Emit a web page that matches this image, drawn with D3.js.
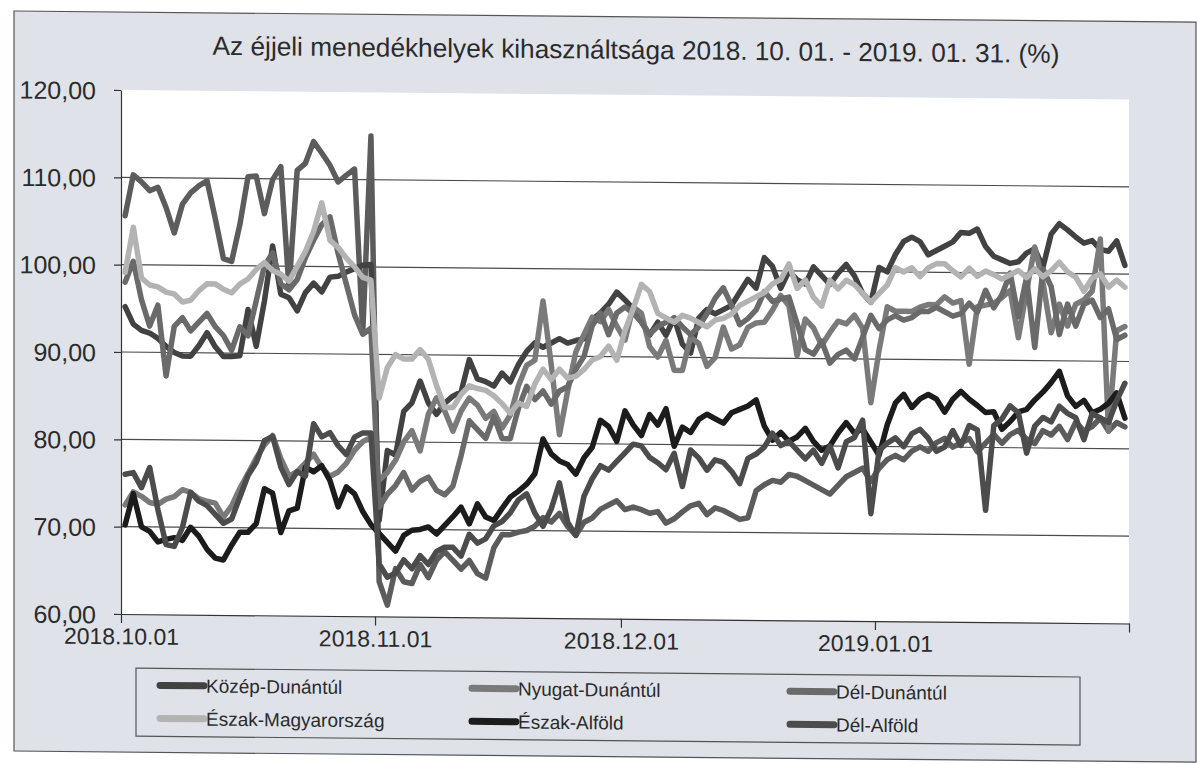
<!DOCTYPE html>
<html><head><meta charset="utf-8">
<script src="https://cdn.jsdelivr.net/npm/d3@7"></script>
<style>body{margin:0;background:#fff}svg{display:block}text{font-family:"Liberation Sans",Arial,sans-serif}</style>
</head><body><svg id="c" width="1203" height="764"></svg>
<script>
const chartTitle = "Az éjjeli menedékhelyek kihasználtsága 2018. 10. 01. - 2019. 01. 31. (%)";
const startDate = new Date(2018, 9, 1), endDate = new Date(2019, 1, 1);
const categories = d3.timeDay.range(startDate, endDate); // 2018.10.01 .. 2019.01.31
const xTickDates = [new Date(2018,9,1), new Date(2018,10,1), new Date(2018,11,1), new Date(2019,0,1), new Date(2019,1,1)];
const xTickLabels = ["2018.10.01","2018.11.01","2018.12.01","2019.01.01",""];
const yTicks = [60,70,80,90,100,110,120];
const yTickLabels = ["60,00","70,00","80,00","90,00","100,00","110,00","120,00"];
const legendNames = ["Közép-Dunántúl","Nyugat-Dunántúl","Dél-Dunántúl","Észak-Magyarország","Észak-Alföld","Dél-Alföld"];

// unlabelled 7th line visible in the picture
const kozepMagyarorszag = [105.6,110.3,109.5,108.5,108.9,106.6,103.7,107.0,108.3,109.1,109.7,105.4,100.8,100.5,104.7,110.2,110.3,106.0,109.9,111.4,97.5,111.0,111.8,114.3,113.0,111.6,109.7,110.5,111.2,92.5,115.0,
64.0,61.3,65.5,64.0,63.8,66.0,64.5,66.5,67.5,66.5,65.5,66.5,65.0,64.5,68.0,69.5,69.5,69.8,70.0,70.5,71.5,71.0,72.0,70.5,69.5,71.0,71.5,72.5,73.0,73.5,
72.5,72.8,72.5,72.1,72.3,71.0,71.5,72.3,73.0,73.3,72.0,72.8,72.5,72.0,71.5,71.7,74.8,75.5,76.0,75.8,76.7,76.5,
76.0,75.5,75.0,74.5,75.5,76.5,77.0,77.5,76.0,77.5,78.5,79.0,78.5,79.5,80.0,79.5,80.5,81.0,80.0,80.5,81.0,79.5,80.5,81.5,80.5,81.5,82.0,81.0,80.5,82.0,81.5,82.5,81.0,83.0,82.0,82.5,83.5,82.0,83.0,82.5];
const kozepDunantul = [95.2,93.2,92.5,92.2,91.6,90.7,90.0,89.6,89.6,90.8,92.3,90.7,89.6,89.6,89.7,95.0,90.8,96.0,102.3,96.8,96.4,94.9,97.0,98.1,97.1,98.8,98.9,99.4,99.8,100.2,100.3,
71.0,79.0,78.5,83.5,84.5,87.0,84.5,83.2,84.5,85.3,85.8,89.5,87.3,87.0,86.5,88.0,87.0,89.0,90.5,91.5,91.0,91.5,92.0,91.5,91.8,92.0,94.2,95.0,96.0,97.4,
96.5,95.5,94.0,92.5,94.0,92.5,94.5,91.5,90.5,94.5,95.5,95.0,95.5,96.0,97.5,99.0,98.0,101.5,100.5,98.0,100.0,99.0,
98.5,100.5,99.5,98.5,99.8,100.8,99.5,97.5,96.5,100.5,100.0,102.0,103.5,104.0,103.5,102.0,102.5,103.0,103.5,104.6,104.5,105.0,103.0,101.9,101.5,101.1,101.3,102.3,102.8,100.7,104.5,105.7,105.0,104.2,103.5,103.8,102.8,102.6,103.8,101.0];
const nyugatDunantul = [72.5,74.0,73.5,72.8,72.6,73.2,73.5,74.3,74.0,73.3,73.0,72.8,71.2,72.5,74.5,76.2,78.0,79.5,80.6,78.0,76.0,76.5,77.5,78.5,77.0,76.0,76.5,77.5,79.0,80.0,80.5,
75.6,76.5,77.9,80.0,81.3,79.0,83.2,85.1,83.6,81.3,83.6,85.1,84.3,82.8,83.6,81.7,83.2,86.6,88.9,89.5,96.3,89.0,81.0,86.0,90.5,92.5,94.5,94.0,95.4,93.5,
91.9,95.7,95.0,91.2,90.0,91.9,88.5,88.5,92.3,91.6,89.0,90.0,93.5,91.0,91.5,93.5,94.0,94.1,95.5,97.2,96.0,90.3,
94.5,93.5,91.5,93.0,94.3,94.0,95.0,93.5,85.0,91.0,96.0,95.5,95.5,95.5,96.0,96.3,96.3,97.2,96.5,96.8,89.5,96.1,96.3,96.5,97.2,98.0,92.6,98.0,103.0,99.0,93.2,96.5,94.0,96.5,97.0,98.0,104.0,82.0,93.5,94.0];
const delDunantul = [98.0,100.4,96.0,93.0,95.4,87.3,93.0,94.0,92.5,93.5,94.5,93.0,92.0,90.3,93.0,92.0,96.0,100.0,101.5,98.0,97.3,98.5,101.0,103.0,104.8,105.7,101.5,98.0,94.5,92.3,93.0,
72.5,74.0,75.0,76.5,74.5,75.5,76.0,74.5,74.0,75.0,78.5,82.5,81.5,80.5,83.0,80.5,80.5,84.0,86.5,85.0,86.0,84.5,86.0,86.5,88.5,90.0,93.5,95.0,92.5,95.0,
95.7,95.0,94.0,92.6,93.5,94.0,94.5,93.5,92.6,93.5,95.0,96.8,98.0,96.0,93.8,94.5,95.5,97.6,96.5,96.8,97.0,94.0,
91.0,90.5,92.0,89.5,90.5,91.0,90.0,92.5,95.0,93.5,94.5,95.0,94.5,94.8,95.5,95.5,96.0,95.5,95.0,95.3,96.5,95.5,98.0,96.0,97.5,100.0,95.0,99.5,91.5,100.5,98.5,93.0,96.5,94.0,96.5,97.0,95.0,96.0,92.5,93.0];
const eszakMagyarorszag = [99.1,104.3,98.5,97.7,97.5,96.9,96.7,95.8,96.0,97.1,97.9,97.9,97.3,96.9,97.9,98.5,99.6,100.4,99.5,99.1,98.3,100.0,101.7,104.0,107.3,103.0,102.2,101.0,100.0,98.8,98.5,
85.0,88.5,90.0,89.5,89.5,90.6,89.5,86.5,84.0,84.0,85.5,86.5,86.2,86.0,85.4,84.5,83.4,84.6,84.2,86.8,88.5,87.3,88.5,87.5,87.7,88.5,89.6,90.0,91.2,89.6,
93.0,95.5,98.3,97.5,95.0,94.5,94.0,94.8,94.5,94.0,93.5,94.3,94.5,95.0,96.0,96.5,97.0,97.5,98.5,99.0,100.8,98.0,
99.0,97.0,96.0,99.0,98.0,99.0,98.5,97.5,96.5,97.5,98.5,100.5,100.0,100.5,99.5,100.5,101.0,101.0,100.2,99.5,100.5,99.6,100.2,99.8,99.3,99.8,100.3,99.5,100.5,99.6,100.3,101.3,100.2,99.6,98.0,99.5,100.0,98.5,99.3,98.5];
const eszakAlfold = [70.2,73.8,70.0,69.5,68.3,68.6,68.8,68.5,70.0,69.0,67.5,66.5,66.3,68.0,69.5,69.5,70.5,74.5,74.0,69.5,72.0,72.3,77.0,76.5,77.2,75.5,72.5,74.8,74.0,72.0,70.5,
69.5,68.5,67.5,69.3,69.9,70.0,70.3,69.5,70.5,71.5,72.6,70.7,73.0,71.5,71.1,72.5,73.8,74.5,75.3,76.5,80.5,78.8,78.0,77.6,76.5,78.4,79.6,82.7,82.0,80.3,
83.8,82.2,81.0,83.4,82.2,84.1,79.8,82.0,81.4,82.9,83.5,83.0,82.5,83.7,84.1,84.5,85.2,82.2,80.6,81.5,80.5,81.0,
82.0,80.5,79.5,80.0,81.5,82.7,81.5,82.0,80.5,79.0,82.5,85.0,86.0,84.5,85.5,86.0,85.5,84.0,85.5,86.4,85.5,84.8,84.0,84.1,82.1,83.0,84.1,84.4,85.5,86.4,87.5,88.8,86.0,84.8,85.5,84.1,84.5,85.2,86.4,83.5];
const delAlfold = [76.0,76.2,74.5,76.8,72.0,68.0,67.8,70.0,74.0,73.0,72.5,71.5,70.5,71.0,73.5,76.0,77.5,80.0,80.5,77.0,75.0,76.5,76.0,82.0,80.5,81.0,79.5,78.5,80.5,81.0,81.0,
66.0,64.5,65.0,66.5,65.5,67.0,66.0,67.5,68.0,68.0,67.0,69.5,68.5,69.0,70.5,71.0,72.0,73.5,74.2,72.0,70.5,72.5,75.5,71.0,69.5,74.0,76.0,77.5,77.0,78.0,
79.0,80.0,79.8,78.5,77.9,77.1,79.0,75.2,79.4,78.5,77.1,78.3,78.0,77.0,75.6,78.5,79.0,79.8,81.4,80.0,80.5,79.5,
78.5,79.5,78.0,80.0,77.5,80.5,81.0,83.0,72.3,79.5,80.4,81.0,80.0,81.5,82.0,81.0,79.5,80.0,81.9,80.2,82.5,82.0,72.8,82.5,83.3,84.8,84.0,79.4,82.5,83.5,83.0,84.8,84.0,83.5,81.0,84.0,83.5,83.0,85.5,87.5];

const seriesList = [
  {name:"Közép-Magyarország", values:kozepMagyarorszag, color:"#5c5c5c", legend:false},
  {name:legendNames[0], values:kozepDunantul, color:"#424242", legend:true},
  {name:legendNames[1], values:nyugatDunantul, color:"#7a7a7a", legend:true},
  {name:legendNames[2], values:delDunantul, color:"#6a6a6a", legend:true},
  {name:legendNames[3], values:eszakMagyarorszag, color:"#b3b3b3", legend:true},
  {name:legendNames[4], values:eszakAlfold, color:"#1c1c1c", legend:true},
  {name:legendNames[5], values:delAlfold, color:"#4c4c4c", legend:true}
];

const svg = d3.select("#c");
const k = 0.0094; // scan skew
const root = svg.append("g").attr("transform", `matrix(1,${k},0,1,0,${-k*120})`);

root.append("rect").attr("x",14).attr("y",12).attr("width",1182).attr("height",740)
  .attr("fill","#dfe2e8").attr("stroke","#555").attr("stroke-width",1.2);

const L = 121, R = 1129, T = 90, B = 614;
root.append("rect").attr("x",L).attr("y",T).attr("width",R-L).attr("height",B-T).attr("fill","#fff");

const x = d3.scaleTime().domain([startDate, endDate]).range([L, R]);
const y = d3.scaleLinear().domain([60,120]).range([B, T]);

// gridlines
root.append("g").selectAll("line").data(yTicks.filter(v => v > 60 && v < 120)).join("line")
  .attr("x1", L).attr("x2", R).attr("y1", d => y(d)).attr("y2", d => y(d))
  .attr("stroke", "#4a4a4a").attr("stroke-width", 1.2);

// y axis
const yAxis = root.append("g").attr("transform", `translate(${L},0)`)
  .call(d3.axisLeft(y).tickValues(yTicks).tickFormat((d,i) => yTickLabels[i]).tickSize(7).tickSizeOuter(0).tickPadding(18));
yAxis.select(".domain").attr("stroke","#333").attr("stroke-width",1.2);
yAxis.selectAll(".tick line").attr("stroke","#333").attr("stroke-width",1.2);
yAxis.selectAll(".tick text").attr("font-size","25px").attr("fill","#2b2b2b").attr("font-family","Liberation Sans, Arial, sans-serif").attr("dy","0.36em");

// x axis
const xAxis = root.append("g").attr("transform", `translate(0,${B})`)
  .call(d3.axisBottom(x).tickValues(xTickDates).tickFormat((d,i) => xTickLabels[i]).tickSize(9).tickSizeOuter(0).tickPadding(5));
xAxis.select(".domain").attr("stroke","#333").attr("stroke-width",1.2);
xAxis.selectAll(".tick line").attr("stroke","#333").attr("stroke-width",1.2);
xAxis.selectAll(".tick text").attr("font-size","23px").attr("fill","#2b2b2b").attr("font-family","Liberation Sans, Arial, sans-serif");

// lines
const line = d3.line()
  .x((v,i) => x(d3.timeHour.offset(categories[i], 12)))
  .y(v => y(v));
root.append("g").selectAll("path").data(seriesList).join("path")
  .attr("d", s => line(s.values))
  .attr("fill","none").attr("stroke", s => s.color).attr("stroke-width",5.5)
  .attr("stroke-linejoin","round").attr("stroke-linecap","round");

// title
const t = root.append("text").attr("x", 636).attr("y", 54).attr("text-anchor","middle")
  .attr("font-size","24px").attr("fill","#2b2b2b").text(chartTitle);
const tw = t.node().getComputedTextLength();
t.attr("font-size", (24*847/tw).toFixed(2) + "px");

// legend
const lg = root.append("g");
lg.append("rect").attr("x",136).attr("y",668).attr("width",944).attr("height",68)
  .attr("fill","none").attr("stroke","#555").attr("stroke-width",1.2);
const legItems = seriesList.filter(s => s.legend);
const colX = [160, 472, 790], rowY = [685, 718];
const li = lg.selectAll("g.item").data(legItems).join("g").attr("class","item")
  .attr("transform", (d,i) => `translate(${colX[i%3]},${rowY[Math.floor(i/3)]})`);
li.append("line").attr("x1",0).attr("x2",44).attr("y1",0).attr("y2",0)
  .attr("stroke", d => d.color).attr("stroke-width",7).attr("stroke-linecap","round");
li.append("text").attr("x",46).attr("y",0).attr("dy","0.36em").attr("font-size","19px").attr("fill","#2b2b2b").text(d => d.name);
</script></body></html>
